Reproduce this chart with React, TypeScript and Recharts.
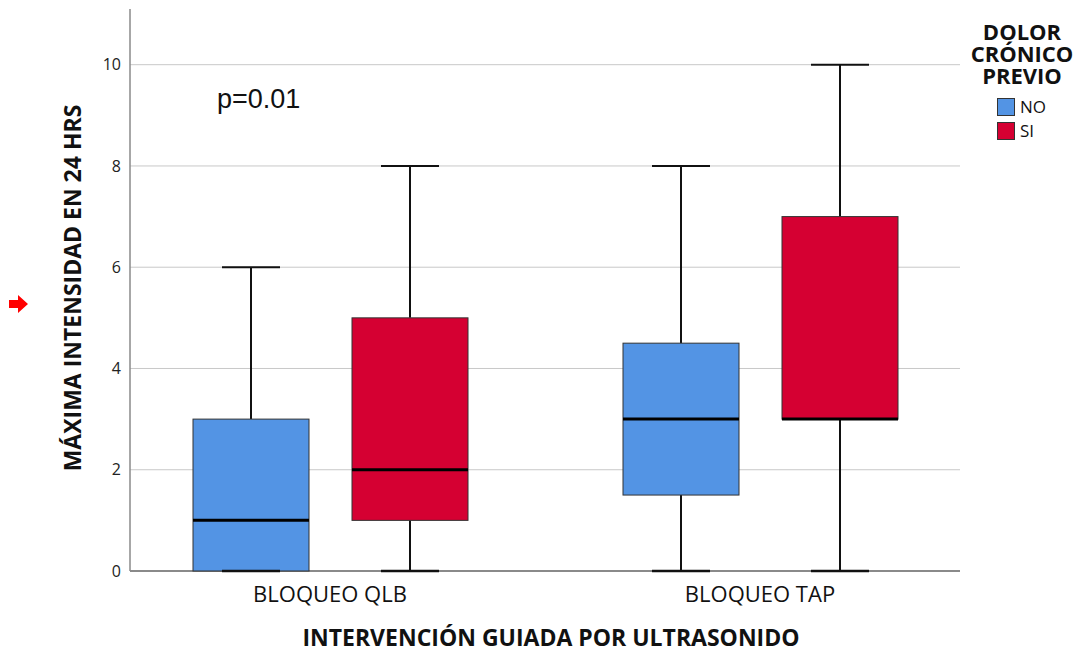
import { ComposedChart, Bar, XAxis, YAxis, CartesianGrid } from 'recharts'

const categories = ['BLOQUEO QLB', 'BLOQUEO TAP']

// DOLOR CRÓNICO PREVIO = NO
const noMin = [0, 0]
const noQ1 = [0, 1.5]
const noMedian = [1, 3]
const noQ3 = [3, 4.5]
const noMax = [6, 8]

// DOLOR CRÓNICO PREVIO = SI
const siMin = [0, 0]
const siQ1 = [1, 3]
const siMedian = [2, 3]
const siQ3 = [5, 7]
const siMax = [8, 10]

const yTicks = [0, 2, 4, 6, 8, 10]
const gridValues = [2, 4, 6, 8, 10]

const COLORS = {
  no: '#5394e4',
  si: '#d50032',
}

const FONT = '"Open Sans", sans-serif'

const data = categories.map((category, i) => ({
  category,
  no: [noMin[i], noMax[i]],
  noQ1: noQ1[i],
  noMedian: noMedian[i],
  noQ3: noQ3[i],
  si: [siMin[i], siMax[i]],
  siQ1: siQ1[i],
  siMedian: siMedian[i],
  siQ3: siQ3[i],
}))

// the bar covers min..max, box/median/whiskers are placed inside it
function BoxShape({ x, y, width, height, payload, kind, color }: any) {
  const [min, max] = payload[kind]
  const bottom = y + height
  const toPx = (v: number) => bottom - ((v - min) / (max - min)) * height
  const q1 = toPx(payload[kind + 'Q1'])
  const q3 = toPx(payload[kind + 'Q3'])
  const med = toPx(payload[kind + 'Median'])
  const cx = x + width / 2
  const capHalf = width / 4
  return (
    <g>
      <line x1={cx} x2={cx} y1={y} y2={q3} stroke="#111" strokeWidth={2} />
      <line x1={cx} x2={cx} y1={q1} y2={bottom} stroke="#111" strokeWidth={2} />
      <rect x={x} y={q3} width={width} height={q1 - q3} fill={color} stroke="#333" strokeWidth={1} />
      <line x1={x} x2={x + width} y1={med} y2={med} stroke="#000" strokeWidth={3} />
      <line x1={cx - capHalf} x2={cx + capHalf} y1={y} y2={y} stroke="#111" strokeWidth={2} />
      <line x1={cx - capHalf} x2={cx + capHalf} y1={bottom} y2={bottom} stroke="#111" strokeWidth={2.5} />
    </g>
  )
}

function YTitle({ viewBox }: any) {
  const cx = 72
  const cy = viewBox.y + viewBox.height / 2 - 2
  return (
    <text
      x={cx}
      y={cy}
      transform={`rotate(-90, ${cx}, ${cy})`}
      textAnchor="middle"
      dominantBaseline="central"
      fontFamily={FONT}
      fontWeight={700}
      fontSize={23}
      fill="#111"
    >
      MÁXIMA INTENSIDAD EN 24 HRS
    </text>
  )
}

function XTitle() {
  return (
    <text x={551} y={646} textAnchor="middle" fontFamily={FONT} fontWeight={700} fontSize={23} fill="#111">
      INTERVENCIÓN GUIADA POR ULTRASONIDO
    </text>
  )
}

export default function App() {
  return (
    <div style={{ position: 'absolute', left: 0, top: 0, width: 1083, height: 652, background: '#fff' }}>
      <ComposedChart
        width={1083}
        height={652}
        data={data}
        margin={{ top: 9, right: 123, bottom: 0, left: 0 }}
        barSize={116}
        barGap={43}
      >
        <CartesianGrid vertical={false} horizontalValues={gridValues} stroke="#c8c8c8" strokeWidth={1} />
        <CartesianGrid vertical={false} horizontalValues={[0]} stroke="#8a8a8a" strokeWidth={2} />
        <XAxis
          dataKey="category"
          height={81}
          padding={{ left: -15, right: -15 }}
          axisLine={false}
          tickLine={false}
          tickSize={0}
          tickMargin={15}
          tick={{ fontFamily: FONT, fontSize: 22, fill: '#111' }}
          label={<XTitle />}
        />
        <YAxis
          type="number"
          domain={[0, 11.1]}
          ticks={yTicks}
          width={130}
          axisLine={{ stroke: '#8a8a8a', strokeWidth: 1.5 }}
          tickLine={false}
          tickSize={0}
          tickMargin={9}
          tick={{ fontFamily: FONT, fontSize: 16, fill: '#222' }}
          label={<YTitle />}
        />
        <Bar
          dataKey="no"
          name="NO"
          fill={COLORS.no}
          isAnimationActive={false}
          shape={(p: any) => <BoxShape {...p} kind="no" color={COLORS.no} />}
        />
        <Bar
          dataKey="si"
          name="SI"
          fill={COLORS.si}
          isAnimationActive={false}
          shape={(p: any) => <BoxShape {...p} kind="si" color={COLORS.si} />}
        />
      </ComposedChart>

      <svg
        width={1083}
        height={652}
        style={{ position: 'absolute', left: 0, top: 0, pointerEvents: 'none' }}
      >
        <polygon points="9,300 18,300 18,295 28,304 18,313 18,308 9,308" fill="#ff0000" />
        <text x={217} y={108} fontFamily='"Liberation Sans", Arial, sans-serif' fontSize={27} fill="#111">
          p=0.01
        </text>
        <text fontFamily={FONT} fontWeight={700} fontSize={22} fill="#111" textAnchor="middle">
          <tspan x={1022} y={40}>DOLOR</tspan>
          <tspan x={1022} y={62}>CRÓNICO</tspan>
          <tspan x={1022} y={84}>PREVIO</tspan>
        </text>
        <rect x={997.5} y={98.5} width={17} height={17} fill={COLORS.no} stroke="#333" strokeWidth={1} />
        <rect x={997.5} y={122.5} width={17} height={17} fill={COLORS.si} stroke="#333" strokeWidth={1} />
        <text x={1020} y={113} fontFamily={FONT} fontSize={17} fill="#111">NO</text>
        <text x={1020} y={137} fontFamily={FONT} fontSize={17} fill="#111">SI</text>
      </svg>
    </div>
  )
}
